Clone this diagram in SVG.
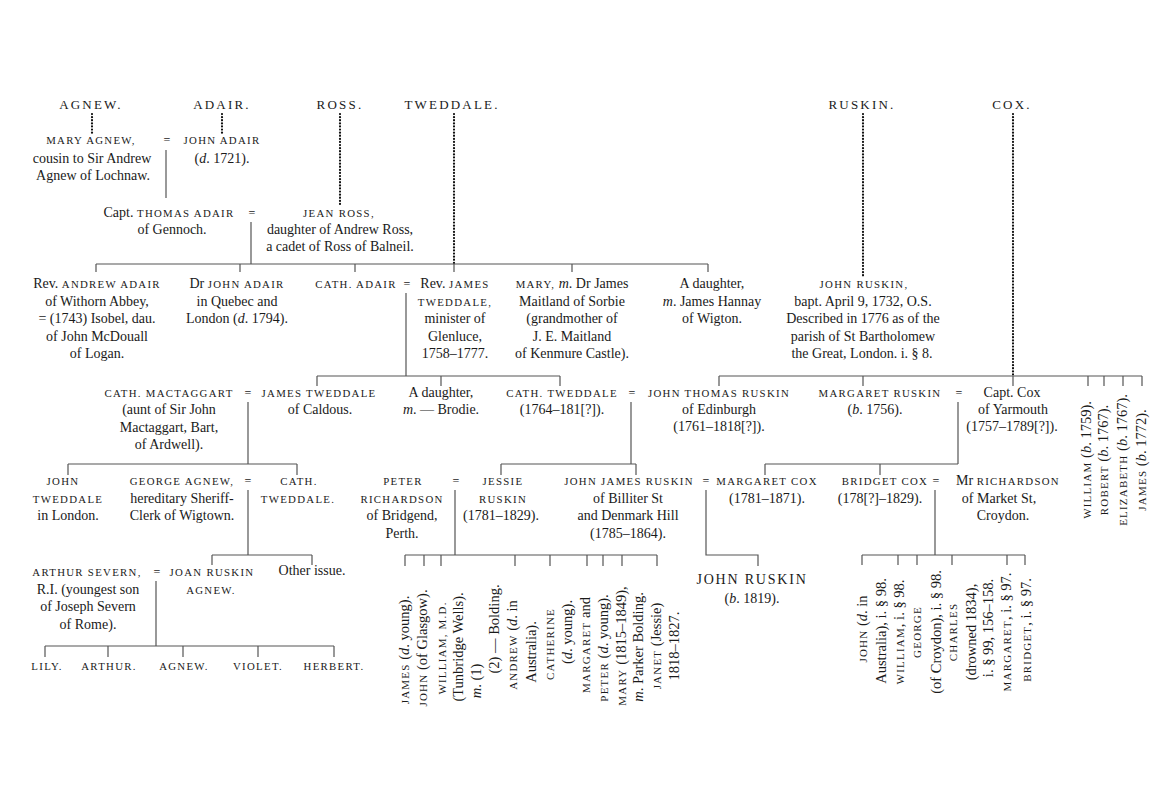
<svg xmlns="http://www.w3.org/2000/svg" width="1175" height="802" viewBox="0 0 1175 802">
<style>
text { font-family: "Liberation Serif", "DejaVu Serif", serif; fill: #1a1a1a; }
.t { font-size: 14px; text-anchor: middle; }
.sc { font-size: 10.8px; letter-spacing: 1.3px; }
.hd { font-size: 13px; letter-spacing: 2.2px; text-anchor: middle; }
.big { font-size: 14px; letter-spacing: 1.8px; text-anchor: middle; }
.eq { font-size: 12px; text-anchor: middle; }
.i { font-style: italic; }
.r { font-size: 14.5px; text-anchor: middle; }
.r .sc { font-size: 11px; letter-spacing: 1.2px; }
.ln { stroke: #555; stroke-width: 1.2; fill: none; }
.dot { stroke: #111; stroke-width: 2.2; stroke-dasharray: 0.1 3; stroke-linecap: round; fill: none; }
</style>
<rect width="1175" height="802" fill="#ffffff"/>

<g id="connectors">
  <!-- dotted family lines -->
  <path class="dot" d="M92 114V133 M222 114V133 M340 114V207 M454 114V264 M863 114V277 M1013 114V375"/>
  <!-- Agnew = Adair -->
  <path class="ln" d="M166 150V198"/>
  <!-- Thomas Adair = Jean Ross -->
  <path class="ln" d="M251 222V264 M96 264H708 M96 264V272 M240 264V272 M355 264V272 M454 264V272 M572 264V272 M708 264V272"/>
  <!-- Cath Adair = James Tweddale -->
  <path class="ln" d="M406 293V376 M317 376H560 M317 376V386 M441 376V386 M560 376V386"/>
  <!-- Ruskin children bar -->
  <path class="ln" d="M719 376H1142 M719 376V386 M863 376V386 M1013 376V386 M1088 376V386 M1104 376V386 M1123 376V386 M1142 376V386"/>
  <!-- Mactaggart = Tweddale -->
  <path class="ln" d="M248 402V464 M68 464H297 M68 464V475 M297 464V475"/>
  <!-- Cath Tweddale = John Thomas Ruskin -->
  <path class="ln" d="M631 402V464 M501 464H636 M501 464V475 M636 464V475"/>
  <!-- Margaret Ruskin = Capt Cox -->
  <path class="ln" d="M958 402V464 M765 464H958 M765 464V475 M880 464V475"/>
  <!-- George Agnew = Cath Tweddale -->
  <path class="ln" d="M248 490V555 M212 555H312 M212 555V565 M312 555V565"/>
  <!-- Peter Richardson = Jessie Ruskin -->
  <path class="ln" d="M455 490V555 M405 555H657 M405 555V566 M424 555V566 M441 555V566 M515 555V566 M550 555V566 M587 555V566 M603 555V566 M622 555V566 M657 555V566"/>
  <!-- John James Ruskin = Margaret Cox -->
  <path class="ln" d="M706 490V555H758V566"/>
  <!-- Bridget Cox = Mr Richardson -->
  <path class="ln" d="M935 490V555 M862 555H1025 M862 555V565 M898 555V565 M917 555V565 M952 555V565 M1007 555V565 M1025 555V565"/>
  <!-- Arthur Severn = Joan Ruskin Agnew -->
  <path class="ln" d="M156 581V646 M45 646H334 M45 646V657 M108 646V657 M183 646V657 M258 646V657 M334 646V657"/>
</g>

<!-- family headers -->
<g id="h-agnew"><text class="hd" x="91" y="109">AGNEW.</text></g>
<g id="h-adair"><text class="hd" x="222" y="109">ADAIR.</text></g>
<g id="h-ross"><text class="hd" x="340" y="109">ROSS.</text></g>
<g id="h-tweddale"><text class="hd" x="452" y="109">TWEDDALE.</text></g>
<g id="h-ruskin"><text class="hd" x="862" y="109">RUSKIN.</text></g>
<g id="h-cox"><text class="hd" x="1012" y="109">COX.</text></g>

<!-- generation 1 -->
<g id="mary-agnew">
  <text class="t" x="91" y="144"><tspan class="sc">MARY AGNEW,</tspan></text>
  <text class="t" x="92" y="163">cousin to Sir Andrew</text>
  <text class="t" x="93" y="180">Agnew of Lochnaw.</text>
</g>
<text class="eq" x="167" y="144">=</text>
<g id="john-adair">
  <text class="t" x="222" y="144"><tspan class="sc">JOHN ADAIR</tspan></text>
  <text class="t" x="222" y="163">(<tspan class="i">d</tspan>. 1721).</text>
</g>

<!-- generation 2 -->
<g id="thomas-adair">
  <text class="t" x="169" y="217">Capt. <tspan class="sc">THOMAS ADAIR</tspan></text>
  <text class="t" x="172" y="234">of Gennoch.</text>
</g>
<text class="eq" x="252" y="217">=</text>
<g id="jean-ross">
  <text class="t" x="339" y="217"><tspan class="sc">JEAN ROSS,</tspan></text>
  <text class="t" x="340" y="234">daughter of Andrew Ross,</text>
  <text class="t" x="340" y="251">a cadet of Ross of Balneil.</text>
</g>

<!-- generation 3 -->
<g id="andrew-adair">
  <text class="t" x="97" y="288">Rev. <tspan class="sc">ANDREW ADAIR</tspan></text>
  <text class="t" x="97" y="306">of Withorn Abbey,</text>
  <text class="t" x="97" y="323">= (1743) Isobel, dau.</text>
  <text class="t" x="97" y="341">of John McDouall</text>
  <text class="t" x="97" y="358">of Logan.</text>
</g>
<g id="dr-john-adair">
  <text class="t" x="237" y="288">Dr <tspan class="sc">JOHN ADAIR</tspan></text>
  <text class="t" x="237" y="306">in Quebec and</text>
  <text class="t" x="237" y="323">London (<tspan class="i">d</tspan>. 1794).</text>
</g>
<g id="cath-adair">
  <text class="t" x="356" y="288"><tspan class="sc">CATH. ADAIR</tspan></text>
</g>
<text class="eq" x="407" y="288">=</text>
<g id="james-tweddale-rev">
  <text class="t" x="455" y="288">Rev. <tspan class="sc">JAMES</tspan></text>
  <text class="t" x="455" y="306"><tspan class="sc">TWEDDALE,</tspan></text>
  <text class="t" x="455" y="323">minister of</text>
  <text class="t" x="455" y="341">Glenluce,</text>
  <text class="t" x="455" y="358">1758–1777.</text>
</g>
<g id="mary-maitland">
  <text class="t" x="572" y="288"><tspan class="sc">MARY,</tspan> <tspan class="i">m</tspan>. Dr James</text>
  <text class="t" x="572" y="306">Maitland of Sorbie</text>
  <text class="t" x="572" y="323">(grandmother of</text>
  <text class="t" x="572" y="341">J. E. Maitland</text>
  <text class="t" x="572" y="358">of Kenmure Castle).</text>
</g>
<g id="daughter-hannay">
  <text class="t" x="712" y="288">A daughter,</text>
  <text class="t" x="712" y="306"><tspan class="i">m</tspan>. James Hannay</text>
  <text class="t" x="712" y="323">of Wigton.</text>
</g>
<g id="john-ruskin-1732">
  <text class="t" x="864" y="288"><tspan class="sc">JOHN RUSKIN,</tspan></text>
  <text class="t" x="863" y="306">bapt. April 9, 1732, O.S.</text>
  <text class="t" x="863" y="323">Described in 1776 as of the</text>
  <text class="t" x="863" y="341">parish of St Bartholomew</text>
  <text class="t" x="862" y="358">the Great, London. i. § 8.</text>
</g>

<!-- generation 4 -->
<g id="cath-mactaggart">
  <text class="t" x="169" y="397"><tspan class="sc">CATH. MACTAGGART</tspan></text>
  <text class="t" x="169" y="414">(aunt of Sir John</text>
  <text class="t" x="169" y="432">Mactaggart, Bart,</text>
  <text class="t" x="169" y="449">of Ardwell).</text>
</g>
<text class="eq" x="248" y="397">=</text>
<g id="james-tweddale-caldous">
  <text class="t" x="319" y="397"><tspan class="sc">JAMES TWEDDALE</tspan></text>
  <text class="t" x="320" y="414">of Caldous.</text>
</g>
<g id="daughter-brodie">
  <text class="t" x="441" y="397">A daughter,</text>
  <text class="t" x="441" y="414"><tspan class="i">m</tspan>. — Brodie.</text>
</g>
<g id="cath-tweddale">
  <text class="t" x="562" y="397"><tspan class="sc">CATH. TWEDDALE</tspan></text>
  <text class="t" x="562" y="414">(1764–181[?]).</text>
</g>
<text class="eq" x="632" y="397">=</text>
<g id="john-thomas-ruskin">
  <text class="t" x="719" y="397"><tspan class="sc">JOHN THOMAS RUSKIN</tspan></text>
  <text class="t" x="719" y="414">of Edinburgh</text>
  <text class="t" x="719" y="431">(1761–1818[?]).</text>
</g>
<g id="margaret-ruskin">
  <text class="t" x="880" y="397"><tspan class="sc">MARGARET RUSKIN</tspan></text>
  <text class="t" x="875" y="414">(<tspan class="i">b</tspan>. 1756).</text>
</g>
<text class="eq" x="959" y="397">=</text>
<g id="capt-cox">
  <text class="t" x="1012" y="397">Capt. Cox</text>
  <text class="t" x="1013" y="414">of Yarmouth</text>
  <text class="t" x="1012" y="431">(1757–1789[?]).</text>
</g>
<g id="cox-children">
  <text class="r" transform="translate(1091,460) rotate(-90)"><tspan class="sc">WILLIAM</tspan> (<tspan class="i">b</tspan>. 1759).</text>
  <text class="r" transform="translate(1108,460) rotate(-90)"><tspan class="sc">ROBERT</tspan> (<tspan class="i">b</tspan>. 1767).</text>
  <text class="r" transform="translate(1127,460) rotate(-90)"><tspan class="sc">ELIZABETH</tspan> (<tspan class="i">b</tspan>. 1767).</text>
  <text class="r" transform="translate(1146,460) rotate(-90)"><tspan class="sc">JAMES</tspan> (<tspan class="i">b</tspan>. 1772).</text>
</g>

<!-- generation 5 -->
<g id="john-tweddale">
  <text class="t" x="63" y="485"><tspan class="sc">JOHN</tspan></text>
  <text class="t" x="68" y="503"><tspan class="sc">TWEDDALE</tspan></text>
  <text class="t" x="68" y="520">in London.</text>
</g>
<g id="george-agnew">
  <text class="t" x="182" y="485"><tspan class="sc">GEORGE AGNEW,</tspan></text>
  <text class="t" x="182" y="503">hereditary Sheriff-</text>
  <text class="t" x="182" y="520">Clerk of Wigtown.</text>
</g>
<text class="eq" x="248" y="485">=</text>
<g id="cath-tweddale-2">
  <text class="t" x="299" y="485"><tspan class="sc">CATH.</tspan></text>
  <text class="t" x="298" y="503"><tspan class="sc">TWEDDALE.</tspan></text>
</g>
<g id="peter-richardson">
  <text class="t" x="403" y="485"><tspan class="sc">PETER</tspan></text>
  <text class="t" x="402" y="503"><tspan class="sc">RICHARDSON</tspan></text>
  <text class="t" x="402" y="520">of Bridgend,</text>
  <text class="t" x="402" y="538">Perth.</text>
</g>
<text class="eq" x="456" y="485">=</text>
<g id="jessie-ruskin">
  <text class="t" x="503" y="485"><tspan class="sc">JESSIE</tspan></text>
  <text class="t" x="503" y="503"><tspan class="sc">RUSKIN</tspan></text>
  <text class="t" x="501" y="520">(1781–1829).</text>
</g>
<g id="john-james-ruskin">
  <text class="t" x="629" y="485"><tspan class="sc">JOHN JAMES RUSKIN</tspan></text>
  <text class="t" x="628" y="503">of Billiter St</text>
  <text class="t" x="628" y="520">and Denmark Hill</text>
  <text class="t" x="628" y="538">(1785–1864).</text>
</g>
<text class="eq" x="706" y="485">=</text>
<g id="margaret-cox">
  <text class="t" x="767" y="485"><tspan class="sc">MARGARET COX</tspan></text>
  <text class="t" x="767" y="503">(1781–1871).</text>
</g>
<g id="bridget-cox">
  <text class="t" x="885" y="485"><tspan class="sc">BRIDGET COX</tspan></text>
  <text class="t" x="880" y="503">(178[?]–1829).</text>
</g>
<text class="eq" x="936" y="485">=</text>
<g id="mr-richardson">
  <text class="t" x="1008" y="485">Mr <tspan class="sc">RICHARDSON</tspan></text>
  <text class="t" x="999" y="503">of Market St,</text>
  <text class="t" x="1003" y="520">Croydon.</text>
</g>

<!-- generation 6 -->
<g id="arthur-severn">
  <text class="t" x="87" y="576"><tspan class="sc">ARTHUR SEVERN,</tspan></text>
  <text class="t" x="88" y="594">R.I. (youngest son</text>
  <text class="t" x="88" y="611">of Joseph Severn</text>
  <text class="t" x="88" y="629">of Rome).</text>
</g>
<text class="eq" x="157" y="576">=</text>
<g id="joan-ruskin-agnew">
  <text class="t" x="212" y="576"><tspan class="sc">JOAN RUSKIN</tspan></text>
  <text class="t" x="211" y="594"><tspan class="sc">AGNEW.</tspan></text>
</g>
<g id="other-issue"><text class="t" x="312" y="575">Other issue.</text></g>
<g id="lily"><text class="t" x="47" y="670"><tspan class="sc">LILY.</tspan></text></g>
<g id="arthur"><text class="t" x="109" y="670"><tspan class="sc">ARTHUR.</tspan></text></g>
<g id="agnew"><text class="t" x="184" y="670"><tspan class="sc">AGNEW.</tspan></text></g>
<g id="violet"><text class="t" x="258" y="670"><tspan class="sc">VIOLET.</tspan></text></g>
<g id="herbert"><text class="t" x="334" y="670"><tspan class="sc">HERBERT.</tspan></text></g>

<g id="richardson-children">
  <text class="r" transform="translate(409,650) rotate(-90)"><tspan class="sc">JAMES</tspan> (<tspan class="i">d</tspan>. young).</text>
  <text class="r" transform="translate(427,648) rotate(-90)"><tspan class="sc">JOHN</tspan> (of Glasgow).</text>
  <text class="r" transform="translate(446,648) rotate(-90)"><tspan class="sc">WILLIAM, M.D.</tspan></text>
  <text class="r" transform="translate(463,647) rotate(-90)">(Tunbridge Wells).</text>
  <text class="r" transform="translate(481,681) rotate(-90)"><tspan class="i">m</tspan>. (1)</text>
  <text class="r" transform="translate(499,629) rotate(-90)">(2) — Bolding.</text>
  <text class="r" transform="translate(517,645) rotate(-90)"><tspan class="sc">ANDREW</tspan> (<tspan class="i">d</tspan>. in</text>
  <text class="r" transform="translate(536,652) rotate(-90)">Australia).</text>
  <text class="r" transform="translate(554,644) rotate(-90)"><tspan class="sc">CATHERINE</tspan></text>
  <text class="r" transform="translate(572,632) rotate(-90)">(<tspan class="i">d</tspan>. young).</text>
  <text class="r" transform="translate(590,645) rotate(-90)"><tspan class="sc">MARGARET</tspan> and</text>
  <text class="r" transform="translate(608,648) rotate(-90)"><tspan class="sc">PETER</tspan> (<tspan class="i">d</tspan>. young).</text>
  <text class="r" transform="translate(626,646) rotate(-90)"><tspan class="sc">MARY</tspan> (1815–1849),</text>
  <text class="r" transform="translate(643,647) rotate(-90)"><tspan class="i">m</tspan>. Parker Bolding.</text>
  <text class="r" transform="translate(661,646) rotate(-90)"><tspan class="sc">JANET</tspan> (Jessie)</text>
  <text class="r" transform="translate(679,646) rotate(-90)">1818–1827.</text>
</g>

<g id="john-ruskin-1819">
  <text class="big" x="752" y="584">JOHN RUSKIN</text>
  <text class="t" x="752" y="603">(<tspan class="i">b</tspan>. 1819).</text>
</g>

<g id="bridget-children">
  <text class="r" transform="translate(867,629) rotate(-90)"><tspan class="sc">JOHN</tspan> (<tspan class="i">d</tspan>. in</text>
  <text class="r" transform="translate(886,631) rotate(-90)">Australia), i. § 98.</text>
  <text class="r" transform="translate(904,632) rotate(-90)"><tspan class="sc">WILLIAM</tspan>, i. § 98.</text>
  <text class="r" transform="translate(921,632) rotate(-90)"><tspan class="sc">GEORGE</tspan></text>
  <text class="r" transform="translate(941,632) rotate(-90)">(of Croydon), i. § 98.</text>
  <text class="r" transform="translate(957,632) rotate(-90)"><tspan class="sc">CHARLES</tspan></text>
  <text class="r" transform="translate(976,632) rotate(-90)">(drowned 1834),</text>
  <text class="r" transform="translate(993,628) rotate(-90)">i. § 99, 156–158.</text>
  <text class="r" transform="translate(1011,632) rotate(-90)"><tspan class="sc">MARGARET</tspan>, i. § 97.</text>
  <text class="r" transform="translate(1031,630) rotate(-90)"><tspan class="sc">BRIDGET</tspan>, i. § 97.</text>
</g>
</svg>
